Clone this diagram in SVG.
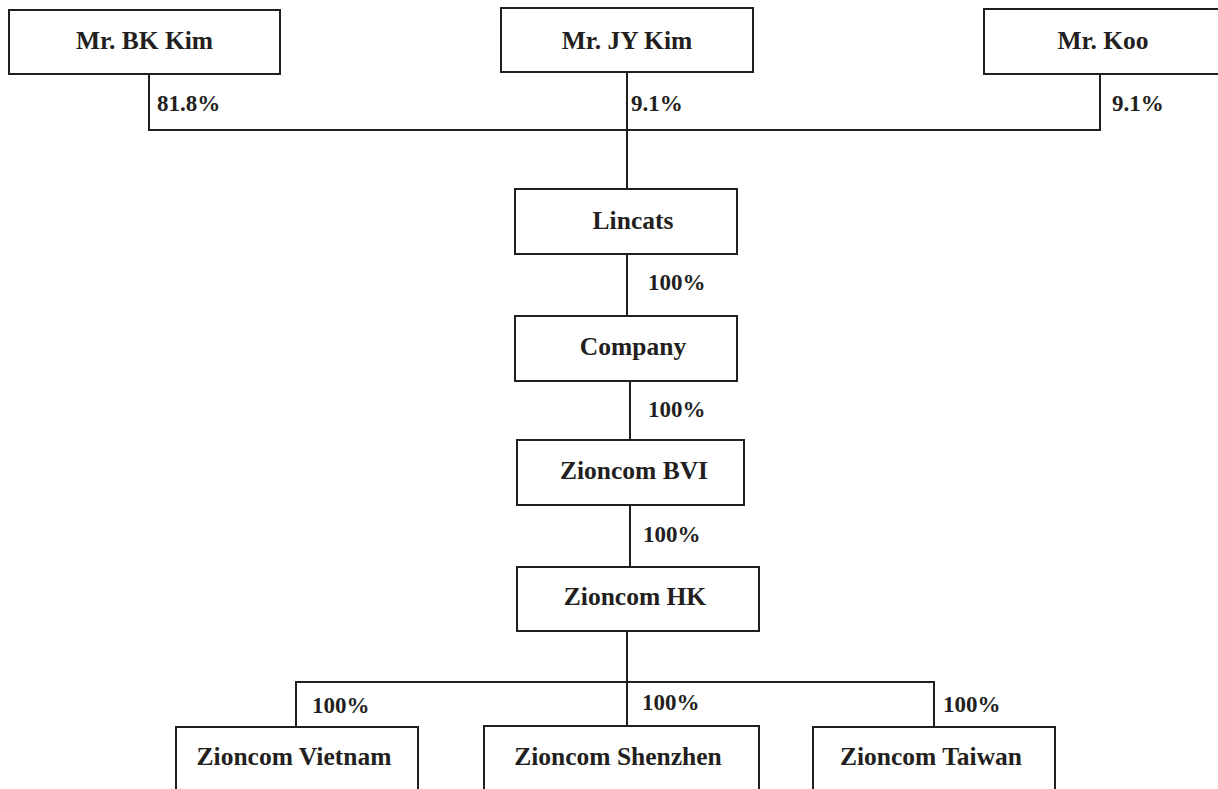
<svg xmlns="http://www.w3.org/2000/svg" width="1218" height="789" viewBox="0 0 1218 789">
<style>
.box{fill:#fff;stroke:#231f20;stroke-width:2}
.ln{fill:none;stroke:#231f20;stroke-width:2}
.t{font-family:"Liberation Serif","Times New Roman",serif;font-weight:bold;font-size:25.5px;fill:#231f20;text-anchor:middle}
.p{font-family:"Liberation Serif","Times New Roman",serif;font-weight:bold;font-size:23px;fill:#231f20}
</style>
<rect width="1218" height="789" fill="#fff"/>
<g id="connectors">
<path class="ln" d="M149 74V130H1100V74"/>
<path class="ln" d="M627 72V189"/>
<path class="ln" d="M627 254V316"/>
<path class="ln" d="M630 381V440"/>
<path class="ln" d="M630 505V567"/>
<path class="ln" d="M627 631V726"/>
<path class="ln" d="M296 727V682H934V727"/>
<text class="p" x="157" y="111">81.8%</text>
<text class="p" x="631" y="111">9.1%</text>
<text class="p" x="1112" y="111">9.1%</text>
<text class="p" x="648" y="290">100%</text>
<text class="p" x="648" y="417">100%</text>
<text class="p" x="643" y="542">100%</text>
<text class="p" x="312" y="713">100%</text>
<text class="p" x="642" y="710">100%</text>
<text class="p" x="943" y="712">100%</text>
</g>
<g id="bkkim"><rect class="box" x="9" y="10" width="271" height="64"/><text class="t" x="144.5" y="49">Mr. BK Kim</text></g>
<g id="jykim"><rect class="box" x="501" y="8" width="252" height="64"/><text class="t" x="627" y="49">Mr. JY Kim</text></g>
<g id="koo"><rect class="box" x="984" y="9" width="238" height="65"/><text class="t" x="1103" y="49">Mr. Koo</text></g>
<g id="lincats"><rect class="box" x="515" y="189" width="222" height="65"/><text class="t" x="633" y="229">Lincats</text></g>
<g id="company"><rect class="box" x="515" y="316" width="222" height="65"/><text class="t" x="633" y="355">Company</text></g>
<g id="zioncombvi"><rect class="box" x="517" y="440" width="227" height="65"/><text class="t" x="634" y="479">Zioncom BVI</text></g>
<g id="zioncomhk"><rect class="box" x="517" y="567" width="242" height="64"/><text class="t" x="635" y="605">Zioncom HK</text></g>
<g id="vietnam"><rect class="box" x="176" y="727" width="242" height="80"/><text class="t" x="294" y="765">Zioncom Vietnam</text></g>
<g id="shenzhen"><rect class="box" x="484" y="726" width="275" height="80"/><text class="t" x="618" y="765">Zioncom Shenzhen</text></g>
<g id="taiwan"><rect class="box" x="813" y="727" width="242" height="80"/><text class="t" x="931" y="765">Zioncom Taiwan</text></g>
</svg>
